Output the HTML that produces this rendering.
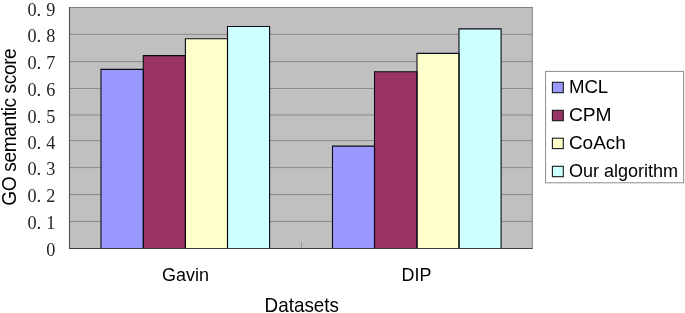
<!DOCTYPE html>
<html>
<head>
<meta charset="utf-8">
<style>
html,body{margin:0;padding:0;background:#fff;}
body{width:685px;height:313px;overflow:hidden;position:relative;}
svg{position:absolute;left:0;top:0;display:block;}
text{filter:grayscale(1);}
.sans{font-family:"Liberation Sans",sans-serif;font-size:18px;fill:#000;}
.tick{font-family:"Liberation Serif",serif;font-size:19px;fill:#262626;}
</style>
</head>
<body>
<svg width="685" height="313" viewBox="0 0 685 313">
<rect x="0" y="0" width="685" height="313" fill="#ffffff"/>
<rect x="69.5" y="7.5" width="462.80" height="240.60" fill="#c0c0c0"/>
<line x1="69.0" x2="532.8" y1="7.5" y2="7.5" stroke="#808080" stroke-width="1"/>
<line x1="532.3" x2="532.3" y1="7.5" y2="248.1" stroke="#808080" stroke-width="1"/>
<g stroke="#848484" stroke-width="0.9">
<line x1="69.5" x2="532.3" y1="221.45" y2="221.45"/>
<line x1="69.5" x2="532.3" y1="194.60" y2="194.60"/>
<line x1="69.5" x2="532.3" y1="167.60" y2="167.60"/>
<line x1="69.5" x2="532.3" y1="140.60" y2="140.60"/>
<line x1="69.5" x2="532.3" y1="115.00" y2="115.00"/>
<line x1="69.5" x2="532.3" y1="88.50" y2="88.50"/>
<line x1="69.5" x2="532.3" y1="61.55" y2="61.55"/>
<line x1="69.5" x2="532.3" y1="34.40" y2="34.40"/>
</g>
<rect x="101.0" y="69.39" width="42.30" height="178.71" fill="#9999ff"/>
<rect x="143.3" y="55.62" width="42.10" height="192.48" fill="#993366"/>
<rect x="185.4" y="38.68" width="42.10" height="209.42" fill="#ffffcc"/>
<rect x="227.5" y="26.51" width="42.10" height="221.59" fill="#ccffff"/>
<rect x="332.5" y="146.11" width="42.00" height="101.99" fill="#9999ff"/>
<rect x="374.5" y="71.76" width="42.50" height="176.34" fill="#993366"/>
<rect x="417.0" y="53.35" width="42.00" height="194.75" fill="#ffffcc"/>
<rect x="459.0" y="28.89" width="42.10" height="219.21" fill="#ccffff"/>
<g stroke="#0a0a14" stroke-width="1.1" fill="none">
<path d="M101.0 248.1 V69.39 H143.30 V248.1"/>
<path d="M143.3 248.1 V55.62 H185.40 V248.1"/>
<path d="M185.4 248.1 V38.68 H227.50 V248.1"/>
<path d="M227.5 248.1 V26.51 H269.60 V248.1"/>
<path d="M332.5 248.1 V146.11 H374.50 V248.1"/>
<path d="M374.5 248.1 V71.76 H417.00 V248.1"/>
<path d="M417.0 248.1 V53.35 H459.00 V248.1"/>
<path d="M459.0 248.1 V28.89 H501.10 V248.1"/>
</g>
<line x1="69.0" x2="532.8" y1="248.5" y2="248.5" stroke="#404040" stroke-width="1"/>
<line x1="69.5" x2="69.5" y1="7.0" y2="248.6" stroke="#505050" stroke-width="1.1"/>
<line x1="301.5" x2="301.5" y1="242.1" y2="248.1" stroke="#8a8a8a" stroke-width="0.8"/>
<g class="tick">
<text transform="translate(46.3,256.30) scale(0.96,1)">0</text>
<text transform="translate(27.5,228.77) scale(0.96,1)">0</text>
<text transform="translate(36.5,228.77)">.</text>
<text transform="translate(46.2,228.77) scale(0.96,1)">1</text>
<text transform="translate(27.5,202.23) scale(0.96,1)">0</text>
<text transform="translate(36.5,202.23)">.</text>
<text transform="translate(46.2,202.23) scale(0.96,1)">2</text>
<text transform="translate(27.5,174.75) scale(0.96,1)">0</text>
<text transform="translate(36.5,174.75)">.</text>
<text transform="translate(46.2,174.75) scale(0.96,1)">3</text>
<text transform="translate(27.5,148.77) scale(0.96,1)">0</text>
<text transform="translate(36.5,148.77)">.</text>
<text transform="translate(46.2,148.77) scale(0.96,1)">4</text>
<text transform="translate(27.5,123.03) scale(0.96,1)">0</text>
<text transform="translate(36.5,123.03)">.</text>
<text transform="translate(46.2,123.03) scale(0.96,1)">5</text>
<text transform="translate(27.5,96.30) scale(0.96,1)">0</text>
<text transform="translate(36.5,96.30)">.</text>
<text transform="translate(46.2,96.30) scale(0.96,1)">6</text>
<text transform="translate(27.5,68.57) scale(0.96,1)">0</text>
<text transform="translate(36.5,68.57)">.</text>
<text transform="translate(46.2,68.57) scale(0.96,1)">7</text>
<text transform="translate(27.5,41.83) scale(0.96,1)">0</text>
<text transform="translate(36.5,41.83)">.</text>
<text transform="translate(46.2,41.83) scale(0.96,1)">8</text>
<text transform="translate(27.5,15.50) scale(0.96,1)">0</text>
<text transform="translate(36.5,15.50)">.</text>
<text transform="translate(46.2,15.50) scale(0.96,1)">9</text>
</g>
<text class="sans" style="font-size:19.2px" transform="translate(16.1,205.7) rotate(-90) scale(1,1.08)" x="0" y="0" textLength="157.5" lengthAdjust="spacing">GO semantic score</text>
<text class="sans" transform="translate(162.1,281.3) scale(1,1.05)">Gavin</text>
<text class="sans" transform="translate(401.6,281.4) scale(0.995,1.04)">DIP</text>
<text class="sans" transform="translate(264.6,311.9) scale(1.048,1.085)">Datasets</text>
<rect x="545.6" y="71.4" width="138" height="111.4" fill="#ffffff" stroke="#8c8c8c" stroke-width="1"/>
<g stroke="#1a1a1a" stroke-width="1.1">
<rect x="552.4" y="82.3" width="10.9" height="10.4" fill="#9999ff"/>
<rect x="552.4" y="110.3" width="10.9" height="10.4" fill="#993366"/>
<rect x="552.4" y="138.2" width="10.9" height="10.4" fill="#ffffcc"/>
<rect x="552.4" y="166.3" width="10.9" height="10.4" fill="#ccffff"/>
</g>
<g class="sans" style="font-size:18.6px">
<text x="568.9" y="93.0" textLength="39.3" lengthAdjust="spacingAndGlyphs">MCL</text>
<text x="568.9" y="121.0" textLength="42.7" lengthAdjust="spacingAndGlyphs">CPM</text>
<text x="568.9" y="149.2" textLength="57.0" lengthAdjust="spacingAndGlyphs">CoAch</text>
<text x="568.9" y="177.0" textLength="109.2" lengthAdjust="spacingAndGlyphs">Our algorithm</text>
</g>
</svg>
</body>
</html>
